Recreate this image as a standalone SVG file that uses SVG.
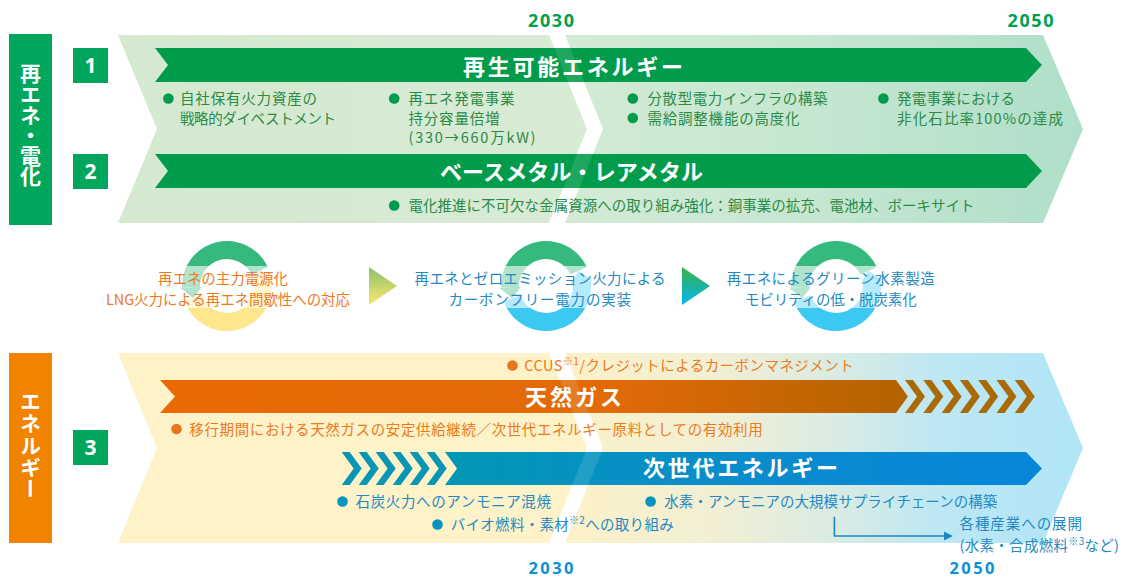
<svg xmlns="http://www.w3.org/2000/svg" width="1122" height="577" viewBox="0 0 1122 577">
<defs>
<style>
.jp{font-family:"Noto Sans CJK JP","Noto Sans",sans-serif;font-size:14.5px}
.g{fill:#2b8a46}.o{fill:#ed7a1f}.b{fill:#2489c2}
.ttl{font-family:"Noto Sans CJK JP","Noto Sans",sans-serif;font-size:22px;font-weight:700;fill:#fff}
.side{font-family:"Noto Sans CJK JP","Noto Sans",sans-serif;font-size:21px;font-weight:700;fill:#fff;text-anchor:middle;writing-mode:vertical-rl}
.num{font-family:"Open Sans","Liberation Sans",sans-serif;font-size:21px;font-weight:700;fill:#fff;text-anchor:middle}
.yr{font-family:"Open Sans","Liberation Sans",sans-serif;font-size:18px;font-weight:700;text-anchor:middle}
.yb{font-size:16.5px}
.sup{font-size:10px}
.gb{fill:#009b4b}.ob{fill:#e8761e}.bb{fill:#0a92c0}
.ring{fill:none;stroke-width:18}
.band{fill:#fff;opacity:0.62}
</style>
<linearGradient id="bgTA" gradientUnits="userSpaceOnUse" x1="118" y1="0" x2="587" y2="0"><stop offset="0" stop-color="#d4e9d0"/><stop offset="1" stop-color="#d8ebd5"/></linearGradient>
<linearGradient id="bgTB" gradientUnits="userSpaceOnUse" x1="565" y1="0" x2="1083" y2="0"><stop offset="0" stop-color="#d3ebd5"/><stop offset="0.5" stop-color="#c5e6d0"/><stop offset="1" stop-color="#afdfca"/></linearGradient>
<linearGradient id="bgBB" gradientUnits="userSpaceOnUse" x1="565" y1="0" x2="1083" y2="0"><stop offset="0" stop-color="#fcf1c9"/><stop offset="0.3" stop-color="#f1efd4"/><stop offset="0.55" stop-color="#d6ebe5"/><stop offset="0.72" stop-color="#bde7f3"/><stop offset="1" stop-color="#b0e5f8"/></linearGradient>
<linearGradient id="orBar" gradientUnits="userSpaceOnUse" x1="160" y1="0" x2="908" y2="0"><stop offset="0" stop-color="#ea6a05"/><stop offset="0.6" stop-color="#e26a07"/><stop offset="1" stop-color="#b36200"/></linearGradient>
<linearGradient id="blBar" gradientUnits="userSpaceOnUse" x1="445" y1="0" x2="1042" y2="0"><stop offset="0" stop-color="#0097b4"/><stop offset="0.5" stop-color="#0a8ccc"/><stop offset="1" stop-color="#0785d9"/></linearGradient>
<linearGradient id="tri1" x1="0" y1="0" x2="0" y2="1"><stop offset="0" stop-color="#8cc26b"/><stop offset="1" stop-color="#fde671"/></linearGradient>
<linearGradient id="tri2" x1="0" y1="0" x2="0" y2="1"><stop offset="0" stop-color="#3aaf48"/><stop offset="1" stop-color="#00b8ef"/></linearGradient>
<polygon id="chevO" points="0,380 8,380 20,396.5 8,413 0,413 12,396.5" fill="#aa6a08"/>
<polygon id="chevB" points="0,452 8,452 20,468.5 8,485 0,485 12,468.5" fill="#0996b4"/>
</defs>

<rect width="1122" height="577" fill="#fff"/>

<!-- backgrounds -->
<g id="bg-top">
<polygon points="118,35 549,35 587,129 549,223 118,223 157,129" fill="url(#bgTA)"/>
<polygon points="565,35 1043,35 1083,129 1043,223 565,223 603,129" fill="url(#bgTB)"/>
</g>
<g id="bg-bottom">
<polygon points="118,353 549,353 587,448 549,543 118,543 157,448" fill="#fdf2c8"/>
<polygon points="565,353 1043,353 1083,448 1043,543 565,543 603,448" fill="url(#bgBB)"/>
</g>

<!-- side labels -->
<g id="side-electric">
<rect x="9" y="34" width="43" height="191" fill="#00a65c"/>
<text class="side" x="30.5" y="125" textLength="124">再エネ・電化</text>
</g>
<g id="side-energy">
<rect x="9" y="353" width="43" height="190" fill="#f08300"/>
<text class="side" x="30.5" y="445" textLength="108">エネルギー</text>
</g>

<g id="num-1"><rect x="73" y="48" width="35" height="35" fill="#00a65c"/><text class="num" x="90.5" y="73">1</text></g>
<g id="num-2"><rect x="73" y="154" width="35" height="35" fill="#00a65c"/><text class="num" x="90.5" y="179">2</text></g>
<g id="num-3"><rect x="73" y="430" width="35" height="35" fill="#00a65c"/><text class="num" x="90.5" y="455">3</text></g>

<!-- years -->
<g id="years">
<text class="yr" x="551" y="26.5" fill="#00a050" textLength="46">2030</text>
<text class="yr" x="1030.5" y="26.5" fill="#00a050" textLength="46">2050</text>
<text class="yr yb" x="551" y="573.5" fill="#0b8fd6" textLength="45">2030</text>
<text class="yr yb" x="972" y="573.5" fill="#0b8fd6" textLength="45">2050</text>
</g>

<!-- bars -->
<g id="bar-renewable">
<polygon points="155,48 1026,48 1042,65 1026,82 155,82 168,65" fill="#009b4b"/>
</g>
<g id="bar-metal">
<polygon points="155,154 1026,154 1042,171 1026,188 155,188 168,171" fill="#009b4b"/>
</g>
<g id="bar-gas">
<polygon points="160,380 896,380 908,396.5 896,413 160,413 175,396.5" fill="url(#orBar)"/>
<use href="#chevO" x="905"/><use href="#chevO" x="923.3"/><use href="#chevO" x="941.6"/><use href="#chevO" x="959.9"/><use href="#chevO" x="978.2"/><use href="#chevO" x="996.5"/><use href="#chevO" x="1014.8"/>
</g>
<g id="bar-next">
<use href="#chevB" x="341.7"/><use href="#chevB" x="358.7"/><use href="#chevB" x="375.7"/><use href="#chevB" x="392.7"/><use href="#chevB" x="409.7"/><use href="#chevB" x="426.7"/>
<polygon points="445,452 1026,452 1042,468.5 1026,485 445,485 457,468.5" fill="url(#blBar)"/>
</g>
<g id="gap-tint" fill="#fff" opacity="0.12">
<polygon points="549,35 565,35 603,129 565,223 549,223 587,129"/>
<polygon points="549,353 565,353 603,448 565,543 549,543 587,448"/>
</g>

<!-- bar titles -->
<g id="titles">
<text class="ttl" x="463" y="74.5" textLength="220">再生可能エネルギー</text>
<text class="ttl" x="440" y="180" textLength="263">ベースメタル・レアメタル</text>
<text class="ttl" x="525" y="405" textLength="97">天然ガス</text>
<text class="ttl" x="643" y="476" textLength="195">次世代エネルギー</text>
</g>

<!-- green bullets -->
<g id="renewable-items">
<circle class="gb" cx="168.4" cy="98.5" r="5.3"/>
<text class="jp g" x="180" y="104" textLength="137">自社保有火力資産の</text>
<text class="jp g" x="180" y="123.5" textLength="156">戦略的ダイベストメント</text>
<circle class="gb" cx="394.2" cy="98.5" r="5.3"/>
<text class="jp g" x="408.5" y="104" textLength="106">再エネ発電事業</text>
<text class="jp g" x="408.5" y="123.5" textLength="91">持分容量倍増</text>
<text class="jp g" x="408.5" y="143" textLength="127">(330→660万kW)</text>
<circle class="gb" cx="632.8" cy="98.5" r="5.3"/>
<text class="jp g" x="647.5" y="104" textLength="180">分散型電力インフラの構築</text>
<circle class="gb" cx="632.8" cy="118" r="5.3"/>
<text class="jp g" x="647.5" y="123.5" textLength="152">需給調整機能の高度化</text>
<circle class="gb" cx="883.4" cy="98.5" r="5.3"/>
<text class="jp g" x="897" y="104" textLength="118">発電事業における</text>
<text class="jp g" x="897" y="123.5" textLength="166">非化石比率100%の達成</text>
</g>
<g id="metal-items">
<circle class="gb" cx="394.2" cy="205.5" r="5.3"/>
<text class="jp g" x="408.5" y="211" textLength="566">電化推進に不可欠な金属資源への取り組み強化：銅事業の拡充、電池材、ボーキサイト</text>
</g>

<!-- rings -->
<g id="ring-1" transform="translate(227 286)">
<path class="ring" stroke="#fde68b" d="M-33.83,12.31 A36,36 0 0 0 35.73,-4.39"/>
<polygon fill="#fde68b" points="24.81,-3.05 46.65,-5.73 32.63,-15.21"/>
<path class="ring" stroke="#35b97c" d="M32.63,-15.21 A36,36 0 0 0 -35.98,1.26"/>
<polygon fill="#35b97c" points="-24.98,0.87 -46.97,1.64 -33.83,12.31"/>
<rect class="band" x="-50" y="-20" width="100" height="42"/>
</g>
<g id="ring-2" transform="translate(546 286)">
<path class="ring" stroke="#3bc8f1" d="M-33.83,12.31 A36,36 0 0 0 35.73,-4.39"/>
<polygon fill="#3bc8f1" points="24.81,-3.05 46.65,-5.73 32.63,-15.21"/>
<path class="ring" stroke="#35b97c" d="M32.63,-15.21 A36,36 0 0 0 -35.98,1.26"/>
<polygon fill="#35b97c" points="-24.98,0.87 -46.97,1.64 -33.83,12.31"/>
<rect class="band" x="-50" y="-20" width="100" height="42"/>
</g>
<g id="ring-3" transform="translate(836 286)">
<path class="ring" stroke="#3bc8f1" d="M-33.83,12.31 A36,36 0 0 0 35.73,-4.39"/>
<polygon fill="#3bc8f1" points="24.81,-3.05 46.65,-5.73 32.63,-15.21"/>
<path class="ring" stroke="#35b97c" d="M32.63,-15.21 A36,36 0 0 0 -35.98,1.26"/>
<polygon fill="#35b97c" points="-24.98,0.87 -46.97,1.64 -33.83,12.31"/>
<rect class="band" x="-50" y="-20" width="100" height="42"/>
</g>
<g id="ring-texts">
<text class="jp o" x="158" y="283.5" textLength="130">再エネの主力電源化</text>
<text class="jp o" x="106" y="305" textLength="244">LNG火力による再エネ間歇性への対応</text>
<text class="jp b" x="414.6" y="283.5" textLength="251">再エネとゼロエミッション火力による</text>
<text class="jp b" x="448.5" y="305" textLength="182.5">カーボンフリー電力の実装</text>
<text class="jp b" x="726.7" y="283.5" textLength="208">再エネによるグリーン水素製造</text>
<text class="jp b" x="745" y="305" textLength="171.7">モビリティの低・脱炭素化</text>
</g>

<!-- gas items -->
<g id="gas-items">
<circle class="ob" cx="512.5" cy="365.5" r="5.3"/>
<text class="jp o" x="524.3" y="371" textLength="329.4">CCUS<tspan class="sup" dy="-6">※1</tspan><tspan dy="6">/クレジットによるカーボンマネジメント</tspan></text>
<circle class="ob" cx="176.5" cy="429" r="5.3"/>
<text class="jp o" x="189.3" y="435" textLength="573.4">移行期間における天然ガスの安定供給継続／次世代エネルギー原料としての有効利用</text>
</g>

<!-- next energy items -->
<g id="next-items">
<circle class="bb" cx="342.5" cy="501.5" r="5.3"/>
<text class="jp b" x="355.5" y="507" textLength="195.5">石炭火力へのアンモニア混焼</text>
<circle class="bb" cx="437.5" cy="524.5" r="5.3"/>
<text class="jp b" x="450.7" y="530" textLength="223">バイオ燃料・素材<tspan class="sup" dy="-6">※2</tspan><tspan dy="6">への取り組み</tspan></text>
<circle class="bb" cx="650.6" cy="501.5" r="5.3"/>
<text class="jp b" x="664.3" y="507" textLength="333">水素・アンモニアの大規模サプライチェーンの構築</text>
</g>
<g id="industry-node">
<text class="jp b" x="959.5" y="529" textLength="122.5">各種産業への展開</text>
<text class="jp b" x="959.5" y="550.5" textLength="159.5">(水素・合成燃料<tspan class="sup" dy="-6">※3</tspan><tspan dy="6">など)</tspan></text>
</g>

<!-- connectors -->
<g id="connectors">
<polygon points="369,267 397,286 369,305" fill="url(#tri1)"/>
<polygon points="682,267 710,286 682,305" fill="url(#tri2)"/>
<path d="M834.4,516.7 V536 H945" fill="none" stroke="#1f86c4" stroke-width="1.6"/>
<polygon points="944,531.5 953,536 944,540.5" fill="#1f86c4"/>
</g>
</svg>
